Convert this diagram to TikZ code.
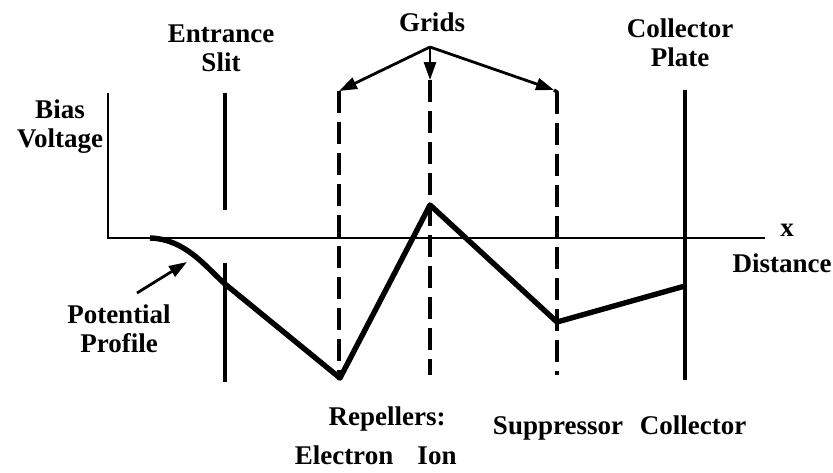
\documentclass[tikz,border=0pt]{standalone}
\usepackage{fontspec}
\setmainfont{Liberation Serif}
\usetikzlibrary{arrows.meta}
\tikzset{
  lbl/.style     = {font=\bfseries\fontsize{13.5}{14.5}\selectfont,
                    align=center, inner sep=0pt},
  axisline/.style = {line width=1.1pt},
  plate/.style    = {line width=1.7pt},
  gridline/.style = {line width=1.7pt, dash pattern=on 11pt off 4.5pt},
  profile/.style  = {line width=2.7pt, line join=round},
  pointer/.style  = {line width=1.4pt, -{Triangle[length=9pt,width=6pt]}},
}
\begin{document}
\begin{tikzpicture}[x=0.5pt,y=-0.5pt]
    \useasboundingbox (0,0) rectangle (833,472);

    % --- axes
    \coordinate (origin) at (108,238);
    \coordinate (ytop) at (108,93);
    \coordinate (xend) at (765,238);
    \draw[axisline] (ytop) -- (origin) -- (xend);
    \node[lbl] (bias) at (60,127) {Bias\\Voltage};
    \node[lbl] (xlab) at (787,230) {x};
    \node[lbl] (dist) at (782,263) {Distance};

    % --- entrance slit
    \coordinate (slit1) at (225,93);
    \coordinate (slit2) at (225,210);
    \coordinate (slit3) at (225,263);
    \coordinate (slit4) at (225,382);
    \draw[plate] (slit1) -- (slit2);
    \draw[plate] (slit3) -- (slit4);
    \node[lbl] (entr) at (221,48) {Entrance\\Slit};

    % --- grids
    \coordinate (apex) at (430,47);
    \coordinate (etop) at (339,91);
    \coordinate (ebot) at (339,380);
    \coordinate (itop) at (430,80);
    \coordinate (ibot) at (430,375);
    \coordinate (stop) at (554,90);
    \coordinate (sbot) at (557,375);
    \draw[gridline] (etop) -- (ebot);
    \draw[gridline] (itop) -- (ibot);
    \draw[gridline] (557,92) -- (sbot);
    \draw[line width=1.7pt] (stop) -- (557,92) -- ++(0,12);
    \node[lbl] (grids) at (432,22) {Grids};
    \draw[pointer] (apex) -- (etop);
    \draw[pointer] (apex) -- (itop);
    \draw[pointer] (apex) -- (stop);

    % --- collector plate
    \coordinate (ctop) at (685,90);
    \coordinate (cbot) at (685,380);
    \draw[plate] (ctop) -- (cbot);
    \node[lbl] (cplate) at (680,43) {Collector\\Plate};

    % --- potential profile
    \coordinate (p0) at (150,238);
    \coordinate (p1) at (225,284);
    \coordinate (p2) at (340,378);
    \coordinate (p3) at (430,205);
    \coordinate (p4) at (557,322);
    \coordinate (p5) at (685,286);
    \draw[profile] (p0) .. controls (185,239) and (205,266) .. (p1)
      -- (p2) -- (p3) -- (p4) -- (p5);
    \node[lbl] (pprof) at (119,329) {Potential\\Profile};
    \coordinate (ptip) at (187,262);
    \draw[pointer] (137,293) -- (ptip);

    % --- electrode labels
    \node[lbl, anchor=base] (rep) at (387,425) {Repellers:};
    \node[lbl, anchor=base] (elec) at (344,464) {Electron};
    \node[lbl, anchor=base] (ion) at (437,464) {Ion};
    \node[lbl, anchor=base] (supp) at (558,434) {Suppressor};
    \node[lbl, anchor=base] (coll) at (693,434) {Collector};
\end{tikzpicture}
\end{document}
